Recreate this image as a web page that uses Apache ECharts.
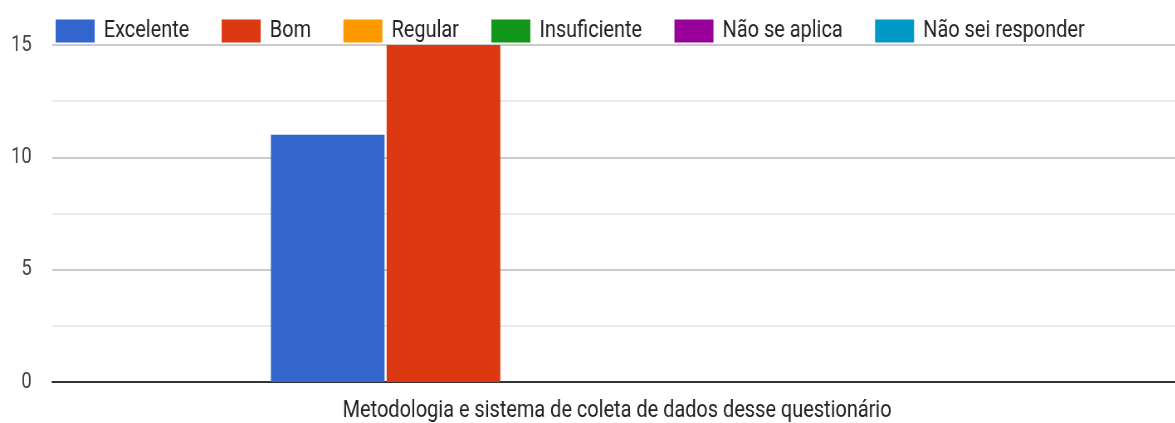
<!DOCTYPE html>
<html>
<head>
<meta charset="utf-8">
<script src="https://cdn.jsdelivr.net/npm/echarts@6/dist/echarts.min.js"></script>
<style>
  html, body { margin: 0; padding: 0; background: #fff; overflow: hidden; }
  /* the reference looks horizontally squeezed, so draw wider and squeeze;
     the plot runs a little past the right edge of the window */
  #chart { width: 1430px; height: 423px; transform: scaleX(0.83); transform-origin: left top; }
</style>
</head>
<body>
<div id="chart"></div>
<script>
const categories = ['Metodologia e sistema de coleta de dados desse questionário']
const seriesNames = ['Excelente', 'Bom', 'Regular', 'Insuficiente', 'Não se aplica', 'Não sei responder']
const seriesValues = [11, 15, 0, 0, 0, 0]
const colors = ['#3366cc', '#dc3912', '#ff9900', '#109618', '#990099', '#0099c6']

const font = 'Roboto, sans-serif'

const chart = echarts.init(document.getElementById('chart'))

const series = seriesNames.map((name, i) => ({
  name: name,
  type: 'bar',
  data: [seriesValues[i]],
  barWidth: 137,
  barGap: '1.8%',
  itemStyle: { color: colors[i] }
}))

chart.setOption({
  animation: false,
  color: colors,
  legend: {
    left: 62,
    top: 14,
    itemWidth: 47,
    itemHeight: 23,
    itemGap: 39,
    icon: 'rect',
    width: 1400,
    textStyle: {
      fontFamily: font,
      fontSize: 24,
      color: '#222',
      padding: [0, 0, 0, 6]
    },
    data: seriesNames
  },
  grid: {
    left: 63,
    right: 6,
    top: 45,
    bottom: 41,
    containLabel: false
  },
  xAxis: {
    type: 'category',
    data: categories,
    axisLine: { lineStyle: { color: '#333', width: 2 } },
    axisTick: { show: false },
    axisLabel: {
      fontFamily: font,
      fontSize: 24,
      color: '#222',
      margin: 17
    }
  },
  yAxis: {
    type: 'value',
    min: 0,
    max: 15,
    interval: 5,
    axisLine: { show: false },
    axisTick: { show: false },
    axisLabel: {
      fontFamily: font,
      fontSize: 22,
      color: '#444',
      margin: 25
    },
    splitLine: { lineStyle: { color: '#cccccc', width: 2 } },
    minorTick: { show: false, splitNumber: 2 },
    minorSplitLine: { show: true, lineStyle: { color: '#ebebeb', width: 2 } }
  },
  series: series
})
</script>
</body>
</html>
